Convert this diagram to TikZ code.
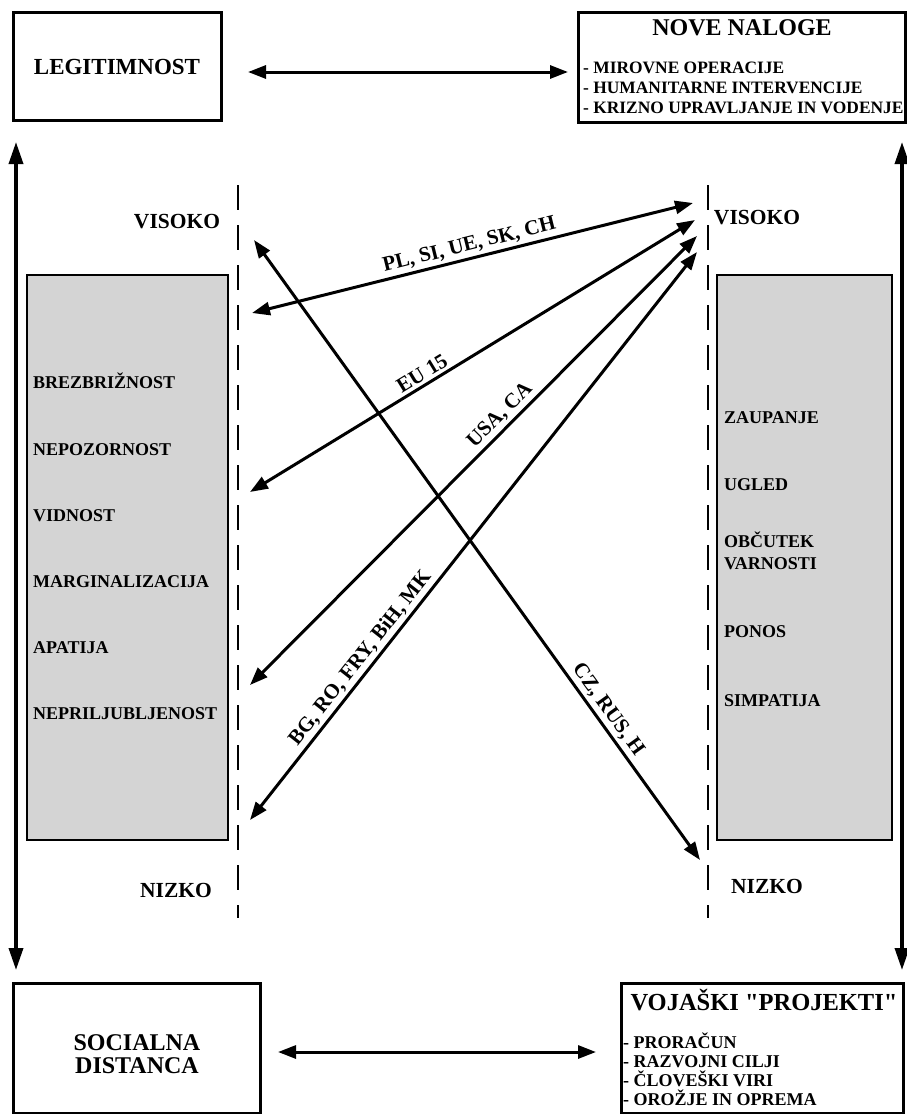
\documentclass[tikz,border=0pt]{standalone}
\usepackage{fontspec}
\setmainfont{Liberation Serif}
\usetikzlibrary{arrows.meta}
\definecolor{boxgray}{RGB}{212,212,212}
\newcommand{\strq}{\XeTeXglyph\XeTeXcharglyph"22\relax}
\begin{document}
\begin{tikzpicture}[x=1pt,y=-1pt,
  box/.style={draw, line width=3pt, inner sep=0pt},
  graybox/.style={draw, line width=2.6pt, fill=boxgray, inner sep=0pt},
  txt/.style={inner sep=0pt, font=\bfseries\fontsize{18}{20}\selectfont, anchor=base west},
  big/.style={inner sep=0pt, font=\bfseries\fontsize{23}{25}\selectfont},
  lvl/.style={inner sep=0pt, font=\bfseries\fontsize{21.5}{23}\selectfont},
  dbl/.style={line width=3pt, {Triangle[length=18pt,width=13pt]}-{Triangle[length=18pt,width=13pt]}},
  vdbl/.style={line width=3.5pt, {Triangle[length=22pt,width=14pt]}-{Triangle[length=22pt,width=14pt]}},
  dashline/.style={line width=2pt, dash pattern=on 25pt off 15pt},
  lab/.style={sloped, above, inner sep=3pt, font=\bfseries\fontsize{21}{23}\selectfont}]
\useasboundingbox (0,0) rectangle (907,1114);

% corner boxes
\node[box, minimum width=208pt, minimum height=108pt] (legit) at (117,66) {};
\node[big] (legittxt) at (117,67) {LEGITIMNOST};

\node[box, minimum width=327pt, minimum height=110pt] (nove) at (741.5,67) {};
\node[big, font=\bfseries\fontsize{24}{26}\selectfont] (novetxt) at (742,28) {NOVE NALOGE};
\node[txt, font=\bfseries\fontsize{17.4}{20}\selectfont] (nn1) at (583,73.6) {- MIROVNE OPERACIJE};
\node[txt, font=\bfseries\fontsize{17.4}{20}\selectfont] (nn2) at (583,93.6) {- HUMANITARNE INTERVENCIJE};
\node[txt, font=\bfseries\fontsize{17.4}{20}\selectfont] (nn3) at (583,113.6) {- KRIZNO UPRAVLJANJE IN VODENJE};

\node[box, minimum width=247pt, minimum height=130pt] (soc) at (136.5,1048) {};
\node[big, font=\bfseries\fontsize{24}{23}\selectfont, align=center] (soctxt) at (137,1054) {SOCIALNA\\DISTANCA};

\node[box, minimum width=282pt, minimum height=130pt] (voj) at (762,1048) {};
\node[big, font=\bfseries\fontsize{24.5}{26}\selectfont] (vojtxt) at (764,1000) {VOJAŠKI \strq PROJEKTI\strq};
\node[txt] (vp1) at (623,1048) {- PRORAČUN};
\node[txt] (vp2) at (623,1067) {- RAZVOJNI CILJI};
\node[txt] (vp3) at (623,1086) {- ČLOVEŠKI VIRI};
\node[txt] (vp4) at (623,1105) {- OROŽJE IN OPREMA};

% horizontal arrows between boxes
\coordinate (t1) at (248,72);
\coordinate (t2) at (568,72);
\draw[dbl] (t1) -- (t2);
\coordinate (b1) at (278,1052);
\coordinate (b2) at (596,1052);
\draw[dbl] (b1) -- (b2);

% vertical arrows
\coordinate (vl1) at (16,142);
\coordinate (vl2) at (16,970);
\draw[vdbl] (vl1) -- (vl2);
\coordinate (vr1) at (902,142);
\coordinate (vr2) at (902,970);
\draw[vdbl] (vr1) -- (vr2);

% gray boxes
\node[graybox, minimum width=201pt, minimum height=565pt] (lg) at (127.5,557.5) {};
\node[graybox, minimum width=175pt, minimum height=565pt] (rg) at (804.5,557.5) {};

\node[txt] (l1) at (33,388) {BREZBRIŽNOST};
\node[txt] (l2) at (33,455) {NEPOZORNOST};
\node[txt] (l3) at (33,521) {VIDNOST};
\node[txt] (l4) at (33,587) {MARGINALIZACIJA};
\node[txt] (l5) at (33,653) {APATIJA};
\node[txt] (l6) at (33,719) {NEPRILJUBLJENOST};

\node[txt] (r1) at (724,423) {ZAUPANJE};
\node[txt] (r2) at (724,490) {UGLED};
\node[txt] (r3) at (724,547) {OBČUTEK};
\node[txt] (r4) at (724,569) {VARNOSTI};
\node[txt] (r5) at (724,637) {PONOS};
\node[txt] (r6) at (724,706) {SIMPATIJA};

% dashed scales
\coordinate (dl1) at (238,185);
\coordinate (dl2) at (238,918);
\draw[dashline] (dl1) -- (dl2);
\coordinate (dr1) at (708,185);
\coordinate (dr2) at (708,918);
\draw[dashline] (dr1) -- (dr2);

\node[lvl] (visl) at (177,222) {VISOKO};
\node[lvl] (visr) at (757,218) {VISOKO};
\node[lvl] (nizl) at (176,890) {NIZKO};
\node[lvl] (nizr) at (767,886) {NIZKO};

% diagonal arrows
\coordinate (a1l) at (252,313);
\coordinate (a1r) at (693,203);
\coordinate (a2l) at (250,492);
\coordinate (a2r) at (695,220);
\coordinate (a3l) at (250,685);
\coordinate (a3r) at (697,236);
\coordinate (a4l) at (250,820);
\coordinate (a4r) at (697,252);
\coordinate (a5l) at (254,240);
\coordinate (a5r) at (700,860);

\draw[dbl] (a1l) -- node[lab, pos=0.5] (lab1) {PL, SI, UE, SK, CH} (a1r);
\draw[dbl] (a2l) -- node[lab, pos=0.4] (lab2) {EU 15} (a2r);
\draw[dbl] (a3l) -- node[lab, pos=0.58] (lab3) {USA, CA} (a3r);
\draw[dbl] (a4l) -- node[lab, pos=0.27] (lab4) {BG, RO, FRY, BiH, MK} (a4r);
\draw[dbl] (a5l) -- node[lab, pos=0.77] (lab5) {CZ, RUS, H} (a5r);
\end{tikzpicture}
\end{document}
